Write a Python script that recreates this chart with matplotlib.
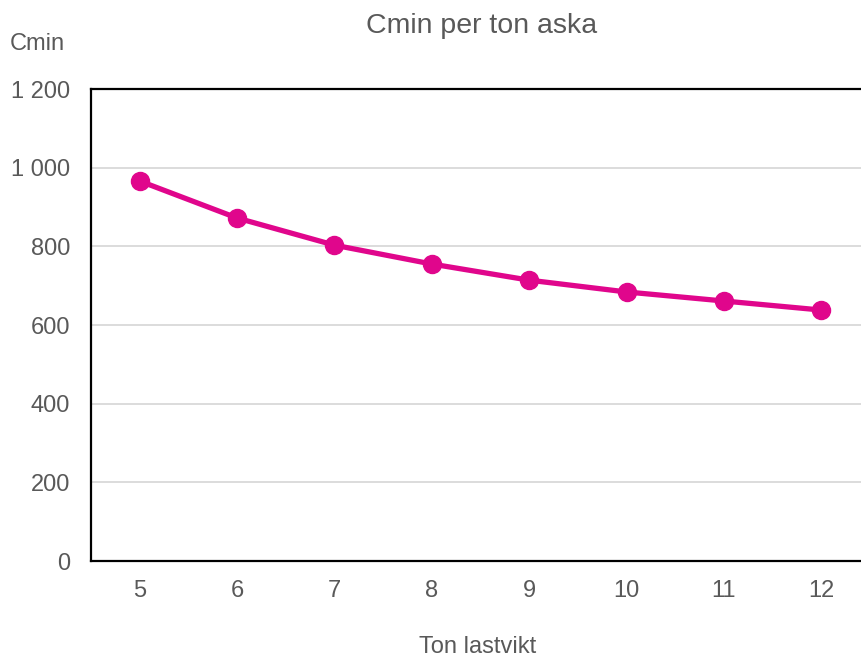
import matplotlib.pyplot as plt
from matplotlib.ticker import FuncFormatter

plt.rcParams['font.family'] = ['Liberation Sans', 'DejaVu Sans']

ton = [5, 6, 7, 8, 9, 10, 11, 12]
cmin = [966, 872, 803, 755, 714, 684, 661, 638]
yticks = [0, 200, 400, 600, 800, 1000, 1200]

grey = '#595959'
pink = '#E0068C'

fig = plt.figure(figsize=(8.62, 6.58), dpi=100)
ax = fig.add_axes([91 / 862, 1 - 561 / 658, (870 - 91) / 862, (561 - 89) / 658])

ax.plot(ton, cmin, color=pink, linewidth=3.8, marker='o', markersize=13,
        solid_capstyle='round', zorder=3)

ax.set_xlim(4.5, 12.5)
ax.set_ylim(0, 1200)
ax.set_xticks(ton)
ax.set_yticks(yticks)
ax.yaxis.set_major_formatter(FuncFormatter(lambda v, p: f'{int(v):,}'.replace(',', ' ')))
ax.tick_params(length=0, labelsize=17, labelcolor=grey)
ax.tick_params(axis='y', pad=15)
ax.tick_params(axis='x', pad=14)
ax.grid(axis='y', color='#d9d9d9', linewidth=1.3)
ax.set_axisbelow(True)

for s in ['left', 'bottom', 'top']:
    ax.spines[s].set_linewidth(1.6)
    ax.spines[s].set_color('black')
ax.spines['right'].set_visible(False)

fig.text(482 / 862, 1 - 26 / 658, 'Cmin per ton aska', ha='center', va='center',
         fontsize=20.5, color=grey)
fig.text(10 / 862, 1 - 44 / 658, 'Cmin', ha='left', va='center', fontsize=17, color=grey)
fig.text(478 / 862, 1 - 647 / 658, 'Ton lastvikt', ha='center', va='center',
         fontsize=17, color=grey)

fig.savefig('out.png', dpi=100)
